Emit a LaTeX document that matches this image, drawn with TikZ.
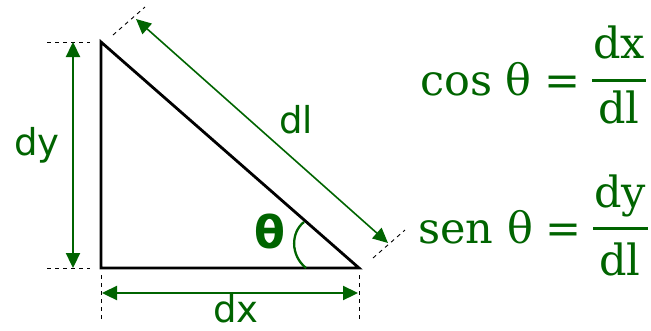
\documentclass[tikz,border=0pt]{standalone}
\usepackage{fontspec}
\usepackage{xcolor}
\usepackage{tikz}
\usetikzlibrary{arrows.meta,positioning,calc}
\newfontfamily\lblfont{DejaVu Sans}
\newfontfamily\eqfont{DejaVu Serif}
\definecolor{dimgreen}{RGB}{0,100,0}
\begin{document}
\begin{tikzpicture}[
  x=1pt, y=-1pt,
  tri/.style={draw=black, line width=2.8pt, line join=miter},
  dimarrow/.style={{Triangle[length=15pt,width=14pt]}-{Triangle[length=15pt,width=14pt]}, dimgreen, line width=2.3pt},
  extline/.style={black, line width=0.9pt, dash pattern=on 4pt off 4pt},
  anglearc/.style={dimgreen, line width=2.3pt},
  lbl/.style={text=dimgreen, font=\lblfont\fontsize{37}{40}\selectfont, inner sep=0pt, anchor=base},
  eq/.style={text=dimgreen, font=\eqfont\fontsize{43}{46}\selectfont, inner sep=0pt},
  fracbar/.style={dimgreen, line width=3pt}
]
\useasboundingbox (0,0) rectangle (651,330);
% --- triangle ---
\coordinate (top) at (101,42);
\coordinate (bl)  at (101,268);
\coordinate (br)  at (359,268);
\draw[tri] (top) -- (bl) -- (br) -- cycle;
% --- extension lines ---
\draw[extline] (47,42) -- (90,42);
\draw[extline] (47,268) -- (90,268);
\draw[extline] (101,275) -- (101,320);
\draw[extline] (359,275) -- (359,320);
\draw[extline] (113,35) -- (145,7);
\draw[extline] (373,258) -- (405,230);
% --- dimension arrows ---
\coordinate (dya) at (73,42);
\coordinate (dyb) at (73,268);
\coordinate (dxa) at (102,293);
\coordinate (dxb) at (358,293);
\coordinate (dla) at (136,19);
\coordinate (dlb) at (388,243);
\draw[dimarrow] (dya) -- (dyb);
\draw[dimarrow] (dxa) -- (dxb);
\draw[dimarrow, line width=1.6pt] (dla) -- (dlb);
% --- angle ---
\coordinate (arcA) at (306,268);
\coordinate (arcB) at (304,222);
\draw[anglearc] (arcA) .. controls (290,255) and (291,232) .. (arcB);
% --- labels ---
\node[lbl] (dy)    at (37,155)  {dy};
\node[lbl] (dl)    at (296,133) {dl};
\node[lbl] (dx)    at (236,322) {dx};
\node[lbl, font=\lblfont\bfseries\fontsize{45}{48}\selectfont] (theta) at (270,248) {θ};
% --- cos equation ---
\node[eq, anchor=base west] (coslhs) at (420,95) {cos θ\hspace{13pt}=};
\node[eq, anchor=base] (cosnum) at (619,58)  {dx};
\node[eq, anchor=base] (cosden) at (619,123) {dl};
\draw[fracbar] (592,80) -- (646,80);
% --- sen equation ---
\node[eq, anchor=base west] (senlhs) at (418,243) {sen θ\hspace{13pt}=};
\node[eq, anchor=base] (sennum) at (620,207) {dy};
\node[eq, anchor=base] (senden) at (620,275) {dl};
\draw[fracbar] (593,228) -- (648,228);
\end{tikzpicture}
\end{document}
